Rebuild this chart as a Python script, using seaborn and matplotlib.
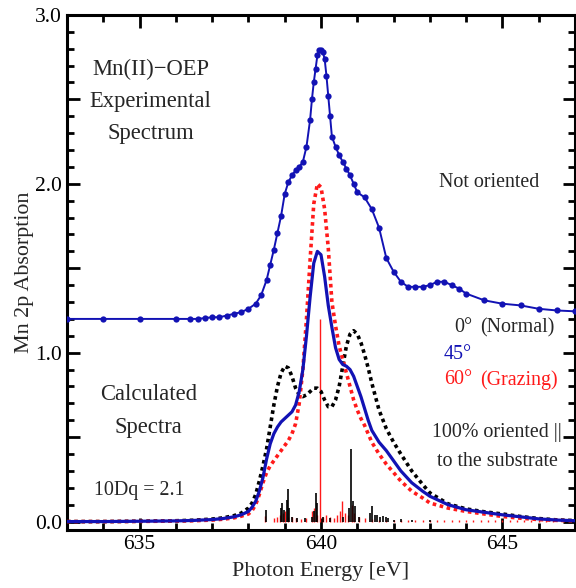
# Mn 2p XAS: experimental spectrum + calculated spectra (0/45/60 deg)

import seaborn as sns
import matplotlib.pyplot as plt
import pandas as pd
from matplotlib.ticker import MultipleLocator, FuncFormatter

sns.set_style("ticks")
plt.rcParams['font.family'] = ['Liberation Serif', 'DejaVu Serif']

# experimental spectrum (offset by 1.2)
exp_energy = [633.0, 634.0, 635.0, 636.0, 636.4, 636.6, 636.8, 637.0, 637.2, 637.4, 637.6, 637.8,
              638.0, 638.2, 638.35, 638.5, 638.6, 638.7, 638.8, 638.9, 639.0, 639.1, 639.2, 639.3,
              639.4, 639.5, 639.6, 639.7, 639.75, 639.8, 639.85, 639.9, 639.95, 640.0, 640.05,
              640.1, 640.15, 640.2, 640.25, 640.3, 640.4, 640.5, 640.6, 640.7, 640.8, 640.9, 641.0,
              641.2, 641.4, 641.6, 641.8, 642.0, 642.2, 642.4, 642.6, 642.8, 643.0, 643.2, 643.4,
              643.6, 643.8, 644.0, 644.5, 645.0, 645.5, 646.0, 646.5, 647.0]
exp_abs = [1.20, 1.20, 1.20, 1.20, 1.20, 1.20, 1.205, 1.21, 1.21, 1.22, 1.23, 1.24,
           1.26, 1.29, 1.34, 1.43, 1.52, 1.61, 1.71, 1.81, 1.94, 2.01, 2.05, 2.08,
           2.10, 2.13, 2.22, 2.38, 2.50, 2.60, 2.68, 2.76, 2.79, 2.79, 2.78,
           2.74, 2.64, 2.52, 2.40, 2.28, 2.22, 2.17, 2.13, 2.09, 2.05, 2.00, 1.95,
           1.92, 1.85, 1.74, 1.56, 1.48, 1.42, 1.39, 1.39, 1.39, 1.40, 1.42, 1.42,
           1.40, 1.38, 1.35, 1.31, 1.29, 1.28, 1.26, 1.25, 1.245]

# calculated spectra
calc_energy = [633.0, 634.0, 635.0, 636.0, 636.5, 637.0, 637.3, 637.6, 637.8, 638.0, 638.1, 638.2,
               638.3, 638.4, 638.5, 638.6, 638.7, 638.8, 638.9, 639.0, 639.1, 639.2, 639.3, 639.4,
               639.5, 639.6, 639.7, 639.8, 639.9, 640.0, 640.1, 640.2, 640.3, 640.4, 640.5, 640.6,
               640.7, 640.8, 640.9, 641.0, 641.1, 641.2, 641.3, 641.4, 641.6, 641.8, 642.0, 642.2,
               642.5, 642.8, 643.0, 643.5, 644.0, 644.5, 645.0, 645.5, 646.0, 646.5, 647.0]
calc_0deg = [0.0, 0.0, 0.002, 0.005, 0.008, 0.015, 0.022, 0.035, 0.05, 0.08, 0.11, 0.16,
             0.24, 0.33, 0.43, 0.56, 0.69, 0.80, 0.88, 0.92, 0.91, 0.86, 0.79, 0.75,
             0.74, 0.75, 0.77, 0.79, 0.79, 0.77, 0.72, 0.68, 0.68, 0.72, 0.80, 0.92,
             1.04, 1.11, 1.13, 1.11, 1.06, 0.99, 0.91, 0.82, 0.66, 0.55, 0.47, 0.40,
             0.30, 0.22, 0.17, 0.105, 0.075, 0.058, 0.045, 0.03, 0.018, 0.01, 0.006]
calc_45deg = [0.0, 0.0, 0.002, 0.004, 0.007, 0.012, 0.018, 0.028, 0.04, 0.06, 0.085, 0.12,
              0.18, 0.26, 0.37, 0.46, 0.52, 0.56, 0.59, 0.61, 0.63, 0.65, 0.69, 0.77,
              0.90, 1.10, 1.33, 1.53, 1.60, 1.58, 1.45, 1.28, 1.15, 1.03, 0.96, 0.93,
              0.92, 0.90, 0.86, 0.80, 0.74, 0.67, 0.60, 0.54, 0.47, 0.42, 0.36, 0.30,
              0.23, 0.18, 0.15, 0.10, 0.07, 0.055, 0.04, 0.028, 0.016, 0.009, 0.005]
calc_60deg = [0.0, 0.0, 0.001, 0.003, 0.005, 0.009, 0.014, 0.022, 0.032, 0.045, 0.065, 0.10,
              0.16, 0.23, 0.29, 0.33, 0.36, 0.39, 0.42, 0.45, 0.48, 0.52, 0.58, 0.70,
              0.90, 1.20, 1.55, 1.88, 2.00, 1.98, 1.85, 1.62, 1.30, 1.16, 1.04, 0.96,
              0.88, 0.80, 0.72, 0.66, 0.61, 0.57, 0.52, 0.47, 0.40, 0.34, 0.29, 0.24,
              0.18, 0.14, 0.11, 0.08, 0.06, 0.045, 0.03, 0.02, 0.012, 0.007, 0.004]

# stick spectra
stick_0_x = [638.49, 638.90, 638.93, 638.97, 639.05, 639.08, 639.12, 639.20, 639.35, 639.55,
             639.75, 639.82, 639.85, 639.88, 640.05, 640.25, 640.60, 640.78, 640.83, 640.87,
             640.94, 641.05, 641.35, 641.41, 641.48, 641.55, 641.62, 641.70, 641.78, 641.85,
             642.0, 642.2, 642.5, 643.0]
stick_0_h = [0.07, 0.08, 0.11, 0.07, 0.13, 0.19, 0.08, 0.03, 0.02, 0.02,
             0.03, 0.06, 0.17, 0.11, 0.03, 0.02, 0.03, 0.08, 0.43, 0.12,
             0.09, 0.03, 0.05, 0.09, 0.04, 0.04, 0.03, 0.035, 0.03, 0.02,
             0.01, 0.015, 0.01, 0.01]
stick_60_x = [638.47, 638.70, 638.80, 638.88, 638.95, 639.02, 639.10, 639.20, 639.30, 639.45,
              639.60, 639.75, 639.80, 639.90, 639.97, 640.05, 640.15, 640.25, 640.35, 640.45,
              640.52, 640.57, 640.65, 640.75, 640.85, 640.92, 641.05, 641.20, 641.40, 641.60,
              641.80, 642.00, 642.20, 642.40, 642.60, 642.80, 643.00, 643.20, 643.40, 643.60,
              643.80, 644.00, 644.20, 644.40, 644.60, 644.80, 645.00, 645.20, 645.40, 645.60,
              645.80, 646.00, 646.20, 646.40]
stick_60_h = [0.035, 0.02, 0.025, 0.04, 0.05, 0.06, 0.03, 0.025, 0.02, 0.015,
              0.02, 0.06, 0.08, 0.04, 1.20, 0.03, 0.04, 0.03, 0.02, 0.04,
              0.06, 0.12, 0.05, 0.04, 0.10, 0.05, 0.03, 0.02, 0.015, 0.012,
              0.01, 0.012, 0.01, 0.008, 0.01, 0.008, 0.01, 0.008, 0.01, 0.008,
              0.01, 0.008, 0.01, 0.008, 0.01, 0.008, 0.01, 0.008, 0.01, 0.008,
              0.01, 0.008, 0.01, 0.008]

blue = '#1212b4'
red = '#ff1a1a'

exp_df = pd.DataFrame({'energy': exp_energy, 'abs': exp_abs})
calc_df = pd.DataFrame({'energy': calc_energy, 'a0': calc_0deg, 'a45': calc_45deg, 'a60': calc_60deg})

fig = plt.figure(figsize=(5.76, 5.88), dpi=100)
ax = fig.add_axes([0.1163, 0.0986, 0.882, 0.876])

ax.vlines(stick_60_x, 0, stick_60_h, color=red, lw=1.0, zorder=2)
ax.vlines(stick_0_x, 0, stick_0_h, color='black', lw=1.2, zorder=2)

sns.lineplot(data=calc_df, x='energy', y='a0', ax=ax, color='black', lw=2.6,
             linestyle=(0, (1, 1)), zorder=3)
sns.lineplot(data=calc_df, x='energy', y='a60', ax=ax, color=red, lw=2.6,
             linestyle=(0, (1, 1)), zorder=3)
sns.lineplot(data=calc_df, x='energy', y='a45', ax=ax, color=blue, lw=2.3, zorder=4)
sns.lineplot(data=exp_df, x='energy', y='abs', ax=ax, color=blue, lw=1.4,
             marker='o', markersize=4.5, markeredgewidth=0, zorder=5)

ax.set_xlim(633, 647)
ax.set_ylim(-0.05, 3.0)
ax.xaxis.set_major_locator(MultipleLocator(5))
ax.xaxis.set_minor_locator(MultipleLocator(1))
ax.yaxis.set_major_locator(MultipleLocator(0.5))
ax.yaxis.set_minor_locator(MultipleLocator(0.1))
ax.yaxis.set_major_formatter(FuncFormatter(lambda v, p: f'{v:.1f}' if abs(v - round(v)) < 1e-6 else ''))
ax.tick_params(which='both', direction='in', top=True, right=True, width=2, labelsize=15.5, colors='black')
ax.tick_params(which='major', length=9)
ax.tick_params(which='minor', length=5)
for s in ax.spines.values():
    s.set_linewidth(2.2)
    s.set_color('black')

ax.set_xlabel('Photon Energy [eV]', fontsize=15.8, labelpad=6)
ax.set_ylabel('Mn 2p Absorption', fontsize=15.8, labelpad=1)

fs = 16.3
fs2 = 14.4
ax.text(635.3, 2.68, 'Mn(II)\u2212OEP', fontsize=fs, ha='center', va='center')
ax.text(635.3, 2.49, 'Experimental', fontsize=fs, ha='center', va='center')
ax.text(635.3, 2.30, 'Spectrum', fontsize=fs, ha='center', va='center')
ax.text(644.63, 2.01, 'Not oriented', fontsize=fs2, ha='center', va='center')
ax.text(644.16, 1.15, '0\u00b0', fontsize=fs2, ha='right', va='center')
ax.text(644.38, 1.15, '(Normal)', fontsize=fs2, ha='left', va='center')
ax.text(644.16, 0.99, '45\u00b0', fontsize=fs2, ha='right', va='center', color=blue)
ax.text(644.16, 0.84, '60\u00b0', fontsize=fs2, ha='right', va='center', color=red)
ax.text(644.38, 0.84, '(Grazing)', fontsize=fs2, ha='left', va='center', color=red)
ax.text(644.85, 0.53, '100% oriented ||', fontsize=fs2, ha='center', va='center')
ax.text(644.85, 0.355, 'to the substrate', fontsize=fs2, ha='center', va='center')
ax.text(635.25, 0.75, 'Calculated', fontsize=fs, ha='center', va='center')
ax.text(635.25, 0.555, 'Spectra', fontsize=fs, ha='center', va='center')
ax.text(635.0, 0.185, '10Dq = 2.1', fontsize=fs2, ha='center', va='center')

fig.savefig('out.png', dpi=100)
